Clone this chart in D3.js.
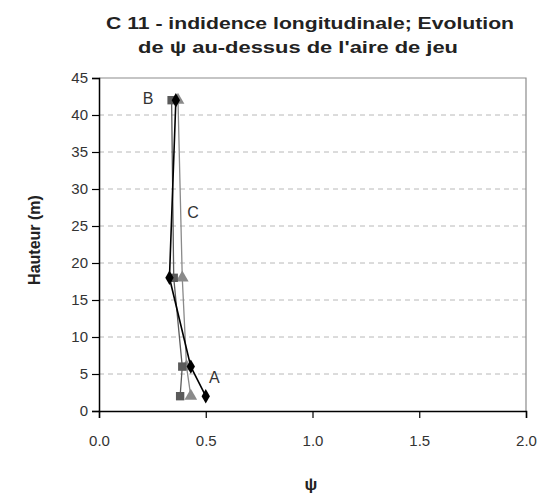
<!DOCTYPE html>
<html><head><meta charset="utf-8">
<script src="https://cdn.jsdelivr.net/npm/d3@7"></script>
<style>body{margin:0;background:#fff}</style>
</head><body>
<svg id="c" width="541" height="496"></svg>
<script>
const heights = [2, 6, 18, 42];
const psiA = [0.50, 0.43, 0.33, 0.36];   // black diamonds
const psiB = [0.38, 0.39, 0.35, 0.34];   // dark grey squares
const psiC = [0.43, 0.41, 0.39, 0.37];   // grey triangles
const xTicks = [0, 0.5, 1.0, 1.5, 2.0];
const yTicks = [0, 5, 10, 15, 20, 25, 30, 35, 40, 45];
const titleLines = ["C 11 - indidence longitudinale; Evolution", "de \u03c8 au-dessus de l'aire de jeu"];
const pointLabels = [{t:"A", x:0.54, y:4.6}, {t:"B", x:0.23, y:42.3}, {t:"C", x:0.44, y:26.8}];

const svg = d3.select("#c");
const x = d3.scaleLinear().domain([0, 2]).range([99, 526]);
const y = d3.scaleLinear().domain([0, 45]).range([411, 78]);
const font = "'Liberation Sans', Arial, sans-serif";

// grid
svg.append("g").selectAll("line").data(yTicks.filter(d => d > 0 && d < 45)).join("line")
  .attr("x1", x(0)).attr("x2", x(2)).attr("y1", d => y(d)).attr("y2", d => y(d))
  .attr("stroke", "#b8b8b8").attr("stroke-dasharray", "5,4").attr("stroke-width", 1);

// plot frame (top/right)
svg.append("path").attr("d", `M${x(0)},${y(45)}H${x(2)}V${y(0)}`)
  .attr("fill", "none").attr("stroke", "#8c8c8c").attr("stroke-width", 1.2);

// axes
const xa = svg.append("g").attr("transform", `translate(0,${y(0)})`)
  .call(d3.axisBottom(x).tickValues(xTicks).tickFormat(d3.format(".1f")).tickSize(7).tickPadding(14));
const ya = svg.append("g").attr("transform", `translate(${x(0)},0)`)
  .call(d3.axisLeft(y).tickValues(yTicks).tickSize(7).tickPadding(4));
[xa, ya].forEach(a => {
  a.select(".domain").attr("stroke", "#000").attr("stroke-width", 1.5);
  a.selectAll(".tick line").attr("stroke", "#000").attr("stroke-width", 1.2);
  a.selectAll(".tick text").attr("font-family", font).attr("font-size", 15).attr("fill", "#333");
});
xa.selectAll(".tick text").attr("dy", "0.9em");

// series
const series = [
  {v: psiC, color: "#8a8a8a", w: 1.3, shape: d3.symbolTriangle, size: 70},
  {v: psiB, color: "#5a5a5a", w: 1.3, shape: d3.symbolSquare, size: 70},
  {v: psiA, color: "#000000", w: 1.6, shape: d3.symbolDiamond, size: 60}
];
const line = d3.line().x(d => x(d[0])).y(d => y(d[1]));
series.forEach(s => {
  const pts = s.v.map((v, i) => [v, heights[i]]);
  svg.append("path").attr("d", line(pts)).attr("fill", "none")
    .attr("stroke", s.color).attr("stroke-width", s.w);
  svg.append("g").selectAll("path").data(pts).join("path")
    .attr("d", d3.symbol().type(s.shape).size(s.size))
    .attr("transform", d => `translate(${x(d[0])},${y(d[1])})`)
    .attr("fill", s.color);
});

// point labels
svg.append("g").selectAll("text").data(pointLabels).join("text")
  .attr("x", d => x(d.x)).attr("y", d => y(d.y)).attr("dy", "0.35em")
  .attr("text-anchor", "middle").attr("font-family", font).attr("font-size", 16).attr("fill", "#333")
  .text(d => d.t);

// titles
svg.append("text").attr("x", 310).attr("y", 29).attr("text-anchor", "middle")
  .attr("font-family", font).attr("font-weight", "bold").attr("font-size", 17).attr("fill", "#222")
  .attr("textLength", 408).attr("lengthAdjust", "spacingAndGlyphs").text(titleLines[0]);
svg.append("text").attr("x", 298).attr("y", 53).attr("text-anchor", "middle")
  .attr("font-family", font).attr("font-weight", "bold").attr("font-size", 17).attr("fill", "#222")
  .attr("textLength", 320).attr("lengthAdjust", "spacingAndGlyphs").text(titleLines[1]);

svg.append("text").attr("transform", "translate(40,240) rotate(-90)").attr("text-anchor", "middle")
  .attr("font-family", font).attr("font-weight", "bold").attr("font-size", 16).attr("fill", "#222")
  .text("Hauteur (m)");
svg.append("text").attr("x", 311).attr("y", 490).attr("text-anchor", "middle")
  .attr("font-family", font).attr("font-weight", "bold").attr("font-size", 17).attr("fill", "#222")
  .text("\u03c8");
</script>
</body></html>
